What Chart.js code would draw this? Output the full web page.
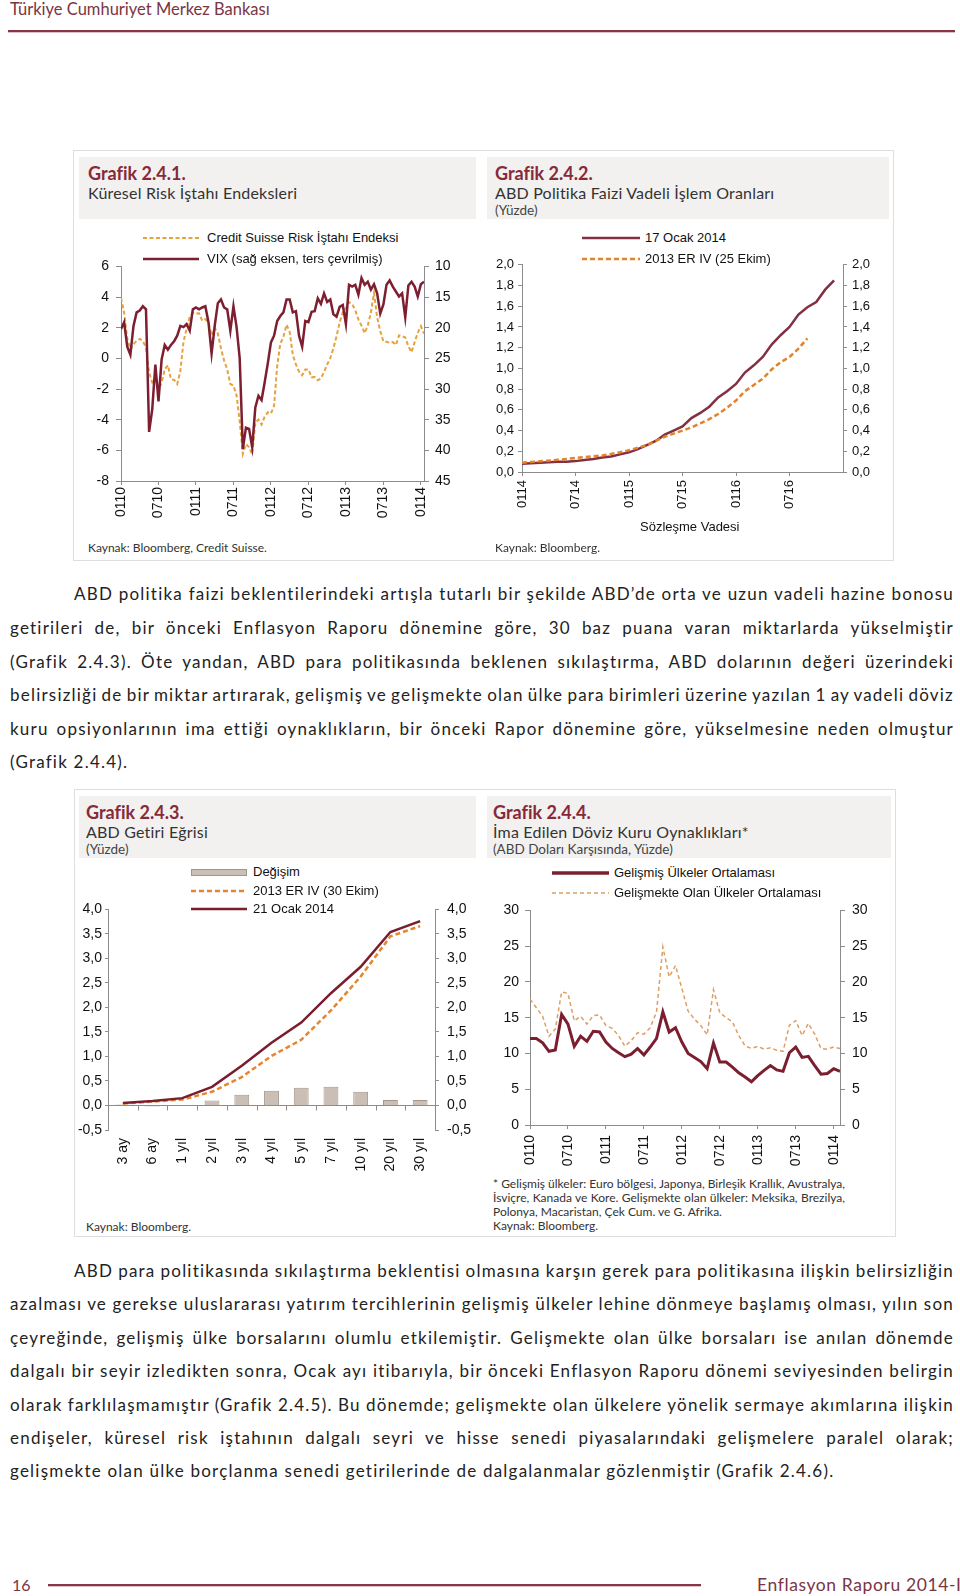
<!DOCTYPE html>
<html lang="tr">
<head>
<meta charset="utf-8">
<title>Enflasyon Raporu 2014-I</title>
<script src="https://cdn.jsdelivr.net/npm/chart.js@4.4.1/dist/chart.umd.min.js"></script>
<style>
  body { margin: 0; width: 960px; height: 1596px; position: relative; background: #fff; overflow: hidden;
         font-family: Lato, "Noto Sans", sans-serif; color: #222; }
  .a { position: absolute; white-space: nowrap; line-height: 1; }
  .cerceve { position: absolute; border: 1px solid #dedede; box-sizing: border-box; }
  .bant { position: absolute; background: #f3f1ef; }
  .baslik { font-weight: bold; font-size: 18px; color: #862a3a; }
  .alt { font-size: 16px; color: #333; letter-spacing: 0.2px; }
  .yuzde { font-size: 13.5px; color: #444; }
  .kaynak { font-size: 12px; color: #333; line-height: 14px; }
  .lej { font-family: "Liberation Sans", Arial, sans-serif; font-size: 13px; color: #111; line-height: 16px; }
  .satir { position: absolute; left: 10px; width: 944px; white-space: nowrap; font-size: 17px; line-height: 20px; color: #222; }
  .kutu { position: absolute; }
</style>
</head>
<body>

<div class="a" style="left:10px;top:1px;font-size:16.5px;color:#7a3545">Türkiye Cumhuriyet Merkez Bankası</div>
<div class="a" style="left:8px;top:30px;width:947px;height:2px;background:#8a3446"></div>
<div class="a" style="left:8px;top:32px;width:947px;height:1px;background:#d9c3c8"></div>

<!-- üst grafikler -->
<div class="cerceve" style="left:73px;top:150px;width:821px;height:411px"></div>
<div class="bant" style="left:79px;top:157px;width:397px;height:62px"></div>
<div class="bant" style="left:487px;top:157px;width:402px;height:62px"></div>
<div class="a baslik" style="left:88px;top:164px">Grafik 2.4.1.</div>
<div class="a alt" style="left:88px;top:185px">Küresel Risk İştahı Endeksleri</div>
<div class="a baslik" style="left:495px;top:164px">Grafik 2.4.2.</div>
<div class="a alt" style="left:495px;top:185px">ABD Politika Faizi Vadeli İşlem Oranları</div>
<div class="a yuzde" style="left:495px;top:204px">(Yüzde)</div>

<div class="kutu" style="left:71px;top:251px"><canvas id="grafik1" width="403" height="280"></canvas></div>
<div class="kutu" style="left:477px;top:252px"><canvas id="grafik2" width="413" height="280"></canvas></div>

<svg class="a" style="left:143px;top:234px" width="56" height="8"><line x1="0" y1="4" x2="56" y2="4" stroke="#e6a23c" stroke-width="2" stroke-dasharray="4 2.5"/></svg>
<div class="a lej" style="left:207px;top:230px">Credit Suisse Risk İştahı Endeksi</div>
<svg class="a" style="left:143px;top:255px" width="56" height="8"><line x1="0" y1="4" x2="56" y2="4" stroke="#7d1f30" stroke-width="2.5"/></svg>
<div class="a lej" style="left:207px;top:251px">VIX (sağ eksen, ters çevrilmiş)</div>

<svg class="a" style="left:582px;top:234px" width="58" height="8"><line x1="0" y1="4" x2="58" y2="4" stroke="#833142" stroke-width="2.5"/></svg>
<div class="a lej" style="left:645px;top:230px">17 Ocak 2014</div>
<svg class="a" style="left:582px;top:255px" width="58" height="8"><line x1="0" y1="4" x2="58" y2="4" stroke="#e3822a" stroke-width="2.5" stroke-dasharray="5 3"/></svg>
<div class="a lej" style="left:645px;top:251px">2013 ER IV (25 Ekim)</div>
<div class="a lej" style="left:640px;top:519px">Sözleşme Vadesi</div>

<div class="a kaynak" style="left:88px;top:541px">Kaynak: Bloomberg, Credit Suisse.</div>
<div class="a kaynak" style="left:495px;top:541px">Kaynak: Bloomberg.</div>

<!-- metin 1 -->
<div class="satir yasla" style="top:584px;left:74px;width:880px"><span>ABD politika faizi beklentilerindeki artışla tutarlı bir şekilde ABD’de orta ve uzun vadeli hazine bonosu</span></div>
<div class="satir yasla" style="top:618px"><span>getirileri de, bir önceki Enflasyon Raporu dönemine göre, 30 baz puana varan miktarlarda yükselmiştir</span></div>
<div class="satir yasla" style="top:652px"><span>(Grafik 2.4.3). Öte yandan, ABD para politikasında beklenen sıkılaştırma, ABD dolarının değeri üzerindeki</span></div>
<div class="satir yasla" style="top:685px"><span>belirsizliği de bir miktar artırarak, gelişmiş ve gelişmekte olan ülke para birimleri üzerine yazılan 1 ay vadeli döviz</span></div>
<div class="satir yasla" style="top:719px"><span>kuru opsiyonlarının ima ettiği oynaklıkların, bir önceki Rapor dönemine göre, yükselmesine neden olmuştur</span></div>
<div class="satir" style="top:752px"><span>(Grafik 2.4.4).</span></div>

<!-- alt grafikler -->
<div class="cerceve" style="left:74px;top:789px;width:822px;height:448px"></div>
<div class="bant" style="left:79px;top:796px;width:397px;height:62px"></div>
<div class="bant" style="left:487px;top:796px;width:404px;height:62px"></div>
<div class="a baslik" style="left:86px;top:803px">Grafik 2.4.3.</div>
<div class="a alt" style="left:86px;top:824px">ABD Getiri Eğrisi</div>
<div class="a yuzde" style="left:86px;top:843px">(Yüzde)</div>
<div class="a baslik" style="left:493px;top:803px">Grafik 2.4.4.</div>
<div class="a alt" style="left:493px;top:824px">İma Edilen Döviz Kuru Oynaklıkları*</div>
<div class="a yuzde" style="left:493px;top:843px">(ABD Doları Karşısında, Yüzde)</div>

<div class="kutu" style="left:62px;top:893px"><canvas id="grafik3" width="423" height="287"></canvas></div>
<div class="kutu" style="left:485px;top:895px"><canvas id="grafik4" width="405" height="280"></canvas></div>

<div class="a" style="left:191px;top:869px;width:56px;height:7px;background:#cbbfb5;border:1px solid #a39588;box-sizing:border-box"></div>
<div class="a lej" style="left:253px;top:864px">Değişim</div>
<svg class="a" style="left:191px;top:887px" width="56" height="8"><line x1="0" y1="4" x2="56" y2="4" stroke="#e5852c" stroke-width="2.5" stroke-dasharray="5 3"/></svg>
<div class="a lej" style="left:253px;top:883px">2013 ER IV (30 Ekim)</div>
<svg class="a" style="left:191px;top:905px" width="56" height="8"><line x1="0" y1="4" x2="56" y2="4" stroke="#7a1e2e" stroke-width="2.5"/></svg>
<div class="a lej" style="left:253px;top:901px">21 Ocak 2014</div>

<svg class="a" style="left:552px;top:869px" width="57" height="8"><line x1="0" y1="4" x2="57" y2="4" stroke="#7b1f30" stroke-width="3.5"/></svg>
<div class="a lej" style="left:614px;top:865px">Gelişmiş Ülkeler Ortalaması</div>
<svg class="a" style="left:552px;top:889px" width="57" height="8"><line x1="0" y1="4" x2="57" y2="4" stroke="#dc9f62" stroke-width="1.5" stroke-dasharray="4 3"/></svg>
<div class="a lej" style="left:614px;top:885px">Gelişmekte Olan Ülkeler Ortalaması</div>

<div class="a kaynak" style="left:86px;top:1220px">Kaynak: Bloomberg.</div>
<div class="a kaynak dip" style="left:493px;top:1177px;width:352px"><span>*  Gelişmiş ülkeler: Euro bölgesi, Japonya, Birleşik Krallık, Avustralya,</span></div>
<div class="a kaynak dip" style="left:493px;top:1191px;width:352px"><span>İsviçre, Kanada ve Kore. Gelişmekte olan ülkeler: Meksika, Brezilya,</span></div>
<div class="a kaynak" style="left:493px;top:1205px">Polonya, Macaristan, Çek Cum. ve G. Afrika.</div>
<div class="a kaynak" style="left:493px;top:1219px">Kaynak: Bloomberg.</div>

<!-- metin 2 -->
<div class="satir yasla" style="top:1261px;left:74px;width:880px"><span>ABD para politikasında sıkılaştırma beklentisi olmasına karşın gerek para politikasına ilişkin belirsizliğin</span></div>
<div class="satir yasla" style="top:1294px"><span>azalması ve gerekse uluslararası yatırım tercihlerinin gelişmiş ülkeler lehine dönmeye başlamış olması, yılın son</span></div>
<div class="satir yasla" style="top:1328px"><span>çeyreğinde, gelişmiş ülke borsalarını olumlu etkilemiştir. Gelişmekte olan ülke borsaları ise anılan dönemde</span></div>
<div class="satir yasla" style="top:1361px"><span>dalgalı bir seyir izledikten sonra, Ocak ayı itibarıyla, bir önceki Enflasyon Raporu dönemi seviyesinden belirgin</span></div>
<div class="satir yasla" style="top:1395px"><span>olarak farklılaşmamıştır (Grafik 2.4.5). Bu dönemde; gelişmekte olan ülkelere yönelik sermaye akımlarına ilişkin</span></div>
<div class="satir yasla" style="top:1428px"><span>endişeler, küresel risk iştahının dalgalı seyri ve hisse senedi piyasalarındaki gelişmelere paralel olarak;</span></div>
<div class="satir" id="sonSatir" style="top:1461px"><span>gelişmekte olan ülke borçlanma senedi getirilerinde de dalgalanmalar gözlenmiştir (Grafik 2.4.6).</span></div>

<div class="a" style="left:12px;top:1577px;font-size:16px;color:#7a3545">16</div>
<div class="a" style="left:48px;top:1584px;width:653px;height:2px;background:#8a3446"></div>
<div class="a" style="left:48px;top:1586px;width:653px;height:1px;background:#d9c3c8"></div>
<div class="a" style="left:757px;top:1576px;font-size:17.5px;letter-spacing:0.6px;color:#7a3545">Enflasyon Raporu 2014-I</div>

<script>
// Grafik 2.4.1 - yarım aylık gözlemler (0110 - 0114)
const csRisk = [3.94, 2.99, 1.29, 0.59, 0.93, 1.14, 1.27, 1.14, 0.70, -0.93, -1.57, -1.36, -1.99, -1.61, -0.72, -0.45,
  -1.36, -1.40, -1.67, -0.83, 1.08, 1.93, 2.71, 2.97, 2.92, 2.94, 2.46, 2.56, 2.35, 1.50, 1.99, 1.61, 0.66, -0.13,
  -0.72, -1.67, -1.78, -2.42, -4.11, -6.23, -5.59, -5.80, -6.27, -4.20, -4.00, -4.32, -3.79, -3.52, -3.60,
  -3.09, -0.50, 0.97, 1.40, 2.20, 1.72, 0.23, -0.40, -0.87, -1.10, -0.72, -0.72, -1.23, -1.21, -1.42, -1.31, -0.89,
  -0.40, 0.02, 0.66, 1.44, 2.35, 2.99, 3.26, 3.67, 3.54, 3.14, 2.54, 2.14, 1.65, 2.14, 2.99, 4.26, 2.67, 1.78, 1.10,
  1.08, 1.02, 1.06, 0.87, 1.50, 1.44, 1.36, 0.80, 0.40, 1.06, 1.67, 2.10, 1.61]
const vix = [20.2, 19.1, 23.1, 24.4, 19.7, 17.5, 17.2, 16.5, 17.0, 37.0, 33.3, 26.0, 32.0, 25.2, 22.8, 23.6, 22.8,
  22.2, 21.3, 19.7, 19.9, 19.4, 20.5, 17.0, 16.7, 17.0, 16.7, 16.5, 19.1, 24.2, 19.7, 16.0, 15.4, 16.7, 17.0, 20.5,
  16.5, 19.9, 25.0, 39.8, 36.3, 36.5, 39.5, 33.0, 31.1, 31.8, 28.9, 25.8, 22.4,
  21.3, 18.9, 18.1, 17.5, 15.4, 15.4, 17.5, 17.3, 21.3, 23.1, 18.9, 19.1, 17.4, 17.3, 15.2, 16.1, 14.4, 15.8, 15.4,
  17.8, 18.2, 16.6, 16.3, 19.4, 13.0, 13.3, 13.0, 14.6, 11.9, 13.0, 12.5, 13.8, 12.9, 14.4, 17.7, 16.2, 13.0, 12.3,
  13.3, 14.1, 14.9, 14.4, 18.3, 13.1, 12.5, 13.3, 14.9, 12.9, 12.5]
const donemler = ['0110', '0710', '0111', '0711', '0112', '0712', '0113', '0713', '0114']

// Grafik 2.4.2 - aylık vadeler (0114 - 1216)
const vadeEtiket = ['0114', '0714', '0115', '0715', '0116', '0716']
const ocak2014 = [0.08, 0.085, 0.09, 0.095, 0.10, 0.10, 0.105, 0.115, 0.125, 0.14, 0.15, 0.17, 0.19, 0.22, 0.26,
  0.30, 0.36, 0.40, 0.44, 0.52, 0.57, 0.63, 0.72, 0.78, 0.85, 0.96, 1.03, 1.11, 1.23, 1.32, 1.40, 1.52, 1.59, 1.64,
  1.76, 1.85]
const ekim2013 = [0.09, 0.097, 0.104, 0.11, 0.118, 0.126, 0.135, 0.143, 0.152, 0.16, 0.175, 0.19, 0.21, 0.235, 0.26,
  0.30, 0.34, 0.37, 0.40, 0.43, 0.47, 0.51, 0.56, 0.62, 0.69, 0.78, 0.84, 0.90, 0.99, 1.06, 1.11, 1.19, 1.29]

// Grafik 2.4.3
const vadeler = ['3 ay', '6 ay', '1 yıl', '2 yıl', '3 yıl', '4 yıl', '5 yıl', '7 yıl', '10 yıl', '20 yıl', '30 yıl']
const degisim = [0.02, -0.02, 0.01, 0.10, 0.22, 0.30, 0.36, 0.38, 0.28, 0.11, 0.11]
const ekim30 = [0.04, 0.08, 0.12, 0.28, 0.58, 1.01, 1.34, 1.94, 2.63, 3.45, 3.66]
const ocak21 = [0.05, 0.09, 0.15, 0.38, 0.81, 1.28, 1.69, 2.29, 2.83, 3.54, 3.76]

// Grafik 2.4.4 - aylık
const gelismis = [12.1, 12.1, 11.5, 10.3, 10.5, 15.45, 14.1, 11.0, 12.4, 11.7, 13.1, 13.0, 11.6, 10.7, 10.1, 9.55,
  9.9, 10.7, 9.8, 10.9, 12.1, 15.8, 13.0, 13.6, 11.6, 10.0, 9.45, 8.87, 7.87, 11.45, 8.8, 8.8, 8.1, 7.3, 6.7, 6.04,
  6.9, 7.63, 8.3, 7.7, 7.5, 10.1, 10.9, 9.45, 9.6, 8.3, 7.1, 7.2, 7.87, 7.5]
const gelismekte = [17.6, 16.4, 15.2, 12.4, 13.4, 18.6, 18.4, 14.55, 15.2, 14.1, 15.3, 15.4, 13.9, 13.5, 12.5, 11.0,
  11.8, 12.9, 12.7, 13.6, 15.8, 24.9, 20.7, 22.3, 19.1, 15.9, 14.8, 13.9, 12.6, 18.9, 15.7, 15.0, 14.4, 12.5, 11.05,
  10.7, 11.0, 10.6, 10.8, 10.45, 10.3, 13.95, 14.6, 12.5, 14.2, 12.7, 10.7, 10.6, 10.9, 10.7]

const eksen = '#8c8c8c'
const yazi = '#111'
Chart.defaults.font.family = '"Liberation Sans", Arial, sans-serif'
Chart.defaults.color = yazi

const virgul = (v, d) => v.toFixed(d).replace('.', ',')

function yEksen(pos, min, max, step, d, w, tick, pad, ek) {
  return Object.assign({
    type: 'linear', position: pos, min: min, max: max,
    afterFit: s => { s.width = w },
    ticks: { stepSize: step, font: { size: 14 }, padding: pad, callback: v => virgul(v, d) },
    grid: { drawOnChartArea: false, color: eksen, tickLength: tick },
    border: { color: eksen }
  }, ek || {})
}

function xZaman(max, etiketler, adim, h, pad) {
  return {
    type: 'linear', min: 0, max: max,
    afterFit: s => { s.height = h },
    afterBuildTicks: s => { s.ticks = etiketler.map((e, i) => ({ value: i * adim })) },
    ticks: { callback: (v, i) => etiketler[i], minRotation: 90, maxRotation: 90, autoSkip: false, font: { size: 14 }, padding: pad },
    grid: { drawOnChartArea: false, color: eksen, tickLength: 4 },
    border: { color: eksen }
  }
}

const ortak = {
  responsive: false,
  animation: false,
  layout: { padding: { top: 10, left: 0, right: 0, bottom: 0 } },
  plugins: { legend: { display: false }, tooltip: { enabled: false } },
  elements: { point: { radius: 0 }, line: { tension: 0 } }
}

const noktala = (dizi, bol) => dizi.map((v, i) => ({ x: i / bol, y: v }))

// Grafik 2.4.1
new Chart(document.getElementById('grafik1'), {
  type: 'line',
  data: {
    datasets: [
      { label: 'VIX (sağ eksen, ters çevrilmiş)', data: noktala(vix, 2), yAxisID: 'y2',
        borderColor: '#7d1f30', borderWidth: 2.5 },
      { label: 'Credit Suisse Risk İştahı Endeksi', data: noktala(csRisk, 2), yAxisID: 'y',
        borderColor: '#e6a23c', borderWidth: 2, borderDash: [4, 2.5] }
    ]
  },
  options: Object.assign({}, ortak, {
    scales: {
      x: xZaman(48.5, donemler, 6, 50, 2),
      y: yEksen('left', -8, 6, 2, 0, 50, 5, 7),
      y2: yEksen('right', 10, 45, 5, 0, 50, 5, 6, { reverse: true })
    }
  })
})

// Grafik 2.4.2
const y2a = yEksen('left', 0, 2, 0.2, 1, 45, 4, 4)
const y2b = yEksen('right', 0, 2, 0.2, 1, 47, 4, 5)
y2a.ticks.font = { size: 13 }
y2b.ticks.font = { size: 13 }
const x2 = xZaman(36, vadeEtiket, 6, 60, 4)
x2.ticks.font = { size: 13 }
new Chart(document.getElementById('grafik2'), {
  type: 'line',
  data: {
    datasets: [
      { label: '2013 ER IV (25 Ekim)', data: noktala(ekim2013, 1), yAxisID: 'y2',
        borderColor: '#e3822a', borderWidth: 2.5, borderDash: [5, 3] },
      { label: '17 Ocak 2014', data: noktala(ocak2014, 1), yAxisID: 'y',
        borderColor: '#833142', borderWidth: 2.5 }
    ]
  },
  options: Object.assign({}, ortak, { scales: { x: x2, y: y2a, y2: y2b } })
})

// Grafik 2.4.3
const sifirCizgisi = {
  id: 'sifirCizgisi',
  beforeDatasetsDraw(chart) {
    const { ctx, scales } = chart
    const y0 = scales.y.getPixelForValue(0)
    ctx.save()
    ctx.strokeStyle = eksen
    ctx.lineWidth = 1
    ctx.beginPath()
    for (let i = 1; i < vadeler.length; i++) {
      const px = Math.round(scales.x.getPixelForValue(i - 0.5)) + 0.5
      ctx.moveTo(px, y0)
      ctx.lineTo(px, y0 + 5)
    }
    ctx.stroke()
    ctx.restore()
  }
}
const y3a = yEksen('left', -0.5, 4, 0.5, 1, 46, 3, 3)
y3a.grid = { drawOnChartArea: true, color: c => (c.tick && c.tick.value === 0 ? eksen : 'rgba(0,0,0,0)'), tickColor: eksen, tickLength: 3 }
new Chart(document.getElementById('grafik3'), {
  type: 'bar',
  data: {
    labels: vadeler,
    datasets: [
      { type: 'line', label: '21 Ocak 2014', data: ocak21, borderColor: '#7a1e2e', borderWidth: 2.5 },
      { type: 'line', label: '2013 ER IV (30 Ekim)', data: ekim30, yAxisID: 'y2',
        borderColor: '#e5852c', borderWidth: 2.5, borderDash: [5, 3] },
      { label: 'Değişim', data: degisim, backgroundColor: '#cbbfb5', borderColor: '#a39588', borderWidth: 1,
        barPercentage: 0.5, categoryPercentage: 1 }
    ]
  },
  options: Object.assign({}, ortak, {
    scales: {
      x: { type: 'category', offset: true, afterFit: s => { s.height = 50 },
           ticks: { minRotation: 90, maxRotation: 90, autoSkip: false, font: { size: 14 }, padding: 8 },
           grid: { display: false, drawTicks: false }, border: { display: false } },
      y: y3a,
      y2: yEksen('right', -0.5, 4, 0.5, 1, 50, 4, 8)
    }
  }),
  plugins: [sifirCizgisi]
})

// Grafik 2.4.4
new Chart(document.getElementById('grafik4'), {
  type: 'line',
  data: {
    datasets: [
      { label: 'Gelişmiş Ülkeler Ortalaması', data: noktala(gelismis, 1), yAxisID: 'y',
        borderColor: '#7b1f30', borderWidth: 3 },
      { label: 'Gelişmekte Olan Ülkeler Ortalaması', data: noktala(gelismekte, 1), yAxisID: 'y2',
        borderColor: '#dc9f62', borderWidth: 1.5, borderDash: [4, 3] }
    ]
  },
  options: Object.assign({}, ortak, {
    scales: {
      x: xZaman(49, donemler, 6, 50, 6),
      y: yEksen('left', 0, 30, 5, 0, 45, 5, 6),
      y2: yEksen('right', 0, 30, 5, 0, 50, 5, 7)
    }
  })
})

// metin: harf aralığı son satırın genişliğinden, sonra iki yana yaslama
const son = document.getElementById('sonSatir').firstElementChild
const harfAraligi = (825 - son.getBoundingClientRect().width) / son.textContent.length
document.querySelectorAll('.satir span').forEach(s => { s.style.letterSpacing = harfAraligi + 'px' })

document.querySelectorAll('.yasla, .dip').forEach(el => {
  const span = el.firstElementChild
  const bosluk = (span.textContent.match(/ /g) || []).length
  const fark = el.clientWidth - span.getBoundingClientRect().width
  if (bosluk) span.style.wordSpacing = (fark / bosluk) + 'px'
})
</script>
</body>
</html>
